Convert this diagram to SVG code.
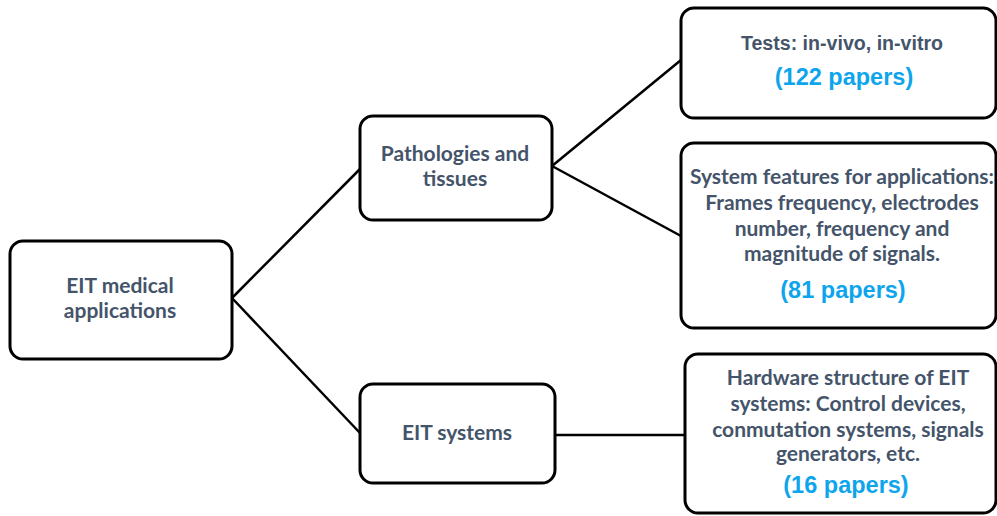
<svg xmlns="http://www.w3.org/2000/svg" width="997" height="516" viewBox="0 0 997 516">
<style>
.box{fill:#fff;stroke:#000;stroke-width:3}
.t{font-family:Lato,"Open Sans",sans-serif;font-weight:bold;font-size:21px;fill:#44546a;text-anchor:middle}
.a{font-family:"Liberation Sans",Arial,sans-serif;font-weight:bold;font-size:19.6px;fill:#44546a;text-anchor:middle}
.b{font-family:"Liberation Sans",Arial,sans-serif;font-weight:bold;font-size:23.5px;fill:#0ea5ec;text-anchor:middle}
.c{fill:none;stroke:#000;stroke-width:2.5}
</style>
<rect width="997" height="516" fill="#fff"/>
<g id="connectors">
<line class="c" x1="232" y1="298" x2="360" y2="169"/>
<line class="c" x1="232" y1="298" x2="360" y2="433"/>
<line class="c" x1="552" y1="166" x2="681" y2="60"/>
<line class="c" x1="552" y1="166" x2="681" y2="236"/>
<line class="c" x1="555" y1="435" x2="685" y2="435"/>
</g>
<g id="n1">
<rect class="box" x="10" y="241" width="222" height="118" rx="13"/>
<text class="t" x="120" y="293">EIT medical</text>
<text class="t" x="120" y="318">applications</text>
</g>
<g id="n2">
<rect class="box" x="360" y="116" width="192" height="104" rx="13"/>
<text class="t" x="455" y="161">Pathologies and</text>
<text class="t" x="455" y="186">tissues</text>
</g>
<g id="n3">
<rect class="box" x="360" y="384" width="195" height="99" rx="13"/>
<text class="t" x="457" y="440">EIT systems</text>
</g>
<g id="n4">
<rect class="box" x="681" y="8" width="315" height="110" rx="13"/>
<text class="a" x="842" y="50">Tests: in-vivo, in-vitro</text>
<text class="b" x="844" y="85">(122 papers)</text>
</g>
<g id="n5">
<rect class="box" x="681" y="143" width="315" height="185" rx="13"/>
<text class="t" x="842" y="184">System features for applications:</text>
<text class="t" x="842" y="210">Frames frequency, electrodes</text>
<text class="t" x="842" y="236">number, frequency and</text>
<text class="t" x="842" y="261">magnitude of signals.</text>
<text class="b" x="843" y="298">(81 papers)</text>
</g>
<g id="n6">
<rect class="box" x="685" y="354" width="311" height="159" rx="13"/>
<text class="t" x="848" y="385">Hardware structure of EIT</text>
<text class="t" x="848" y="411">systems: Control devices,</text>
<text class="t" x="848" y="437">conmutation systems, signals</text>
<text class="t" x="848" y="461">generators, etc.</text>
<text class="b" x="846" y="493">(16 papers)</text>
</g>
</svg>
